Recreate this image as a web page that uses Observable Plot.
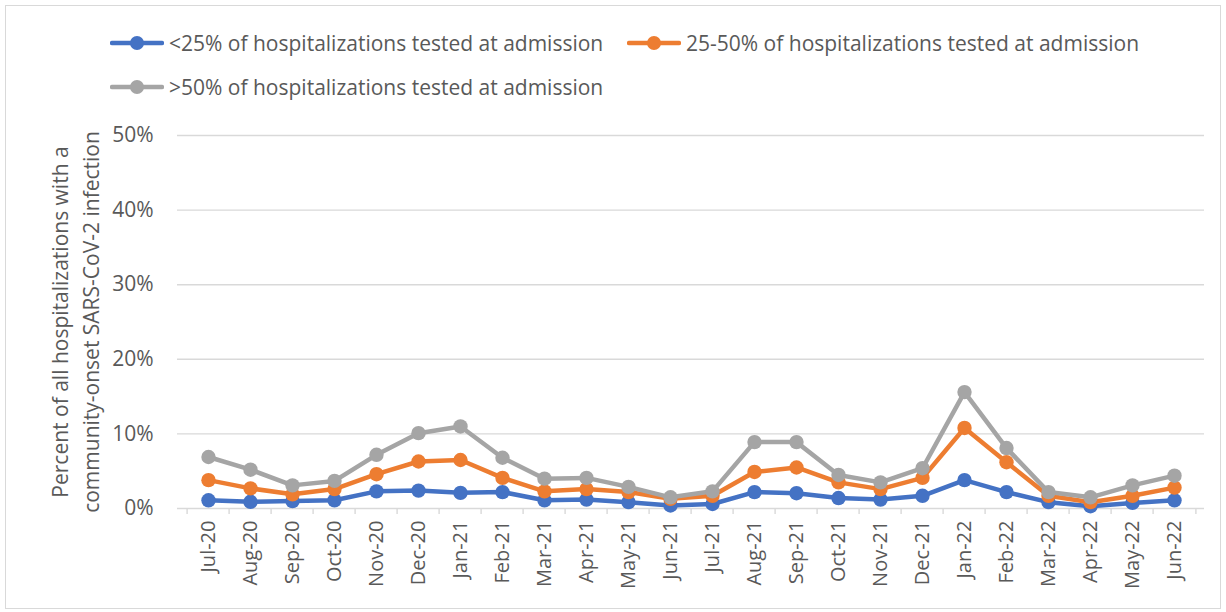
<!DOCTYPE html>
<html>
<head>
<meta charset="utf-8">
<script src="https://cdn.jsdelivr.net/npm/d3@7"></script>
<script src="https://cdn.jsdelivr.net/npm/@observablehq/plot@0.6"></script>
<style>
  html, body { margin: 0; padding: 0; background: #fff; }
  #wrap { position: relative; width: 1226px; height: 612px; font-family: "Open Sans", Lato, sans-serif; }
  #border { position: absolute; left: 5px; top: 5px; width: 1216px; height: 604px; border: 1px solid #d9d9d9; box-sizing: border-box; pointer-events: none; }
  .leg { position: absolute; display: flex; align-items: center; font-size: 21px; color: #595959; white-space: nowrap; }
  .leg svg { margin-right: 5px; }
</style>
</head>
<body>
<div id="wrap">
  <div id="border"></div>
  <div id="chart"></div>
</div>
<script>
const months = ["Jul-20","Aug-20","Sep-20","Oct-20","Nov-20","Dec-20","Jan-21","Feb-21","Mar-21","Apr-21","May-21","Jun-21",
                "Jul-21","Aug-21","Sep-21","Oct-21","Nov-21","Dec-21","Jan-22","Feb-22","Mar-22","Apr-22","May-22","Jun-22"];
const seriesNames = ["<25% of hospitalizations tested at admission",
                     "25-50% of hospitalizations tested at admission",
                     ">50% of hospitalizations tested at admission"];
const seriesColors = ["#4472C4", "#ED7D31", "#A5A5A5"];
const low  = [1.1, 0.9, 1.0, 1.1, 2.3, 2.4, 2.1, 2.2, 1.1, 1.2, 0.85, 0.4, 0.6, 2.2, 2.05, 1.4, 1.2, 1.7, 3.8, 2.2, 0.85, 0.3, 0.75, 1.1];
const mid  = [3.8, 2.7, 1.9, 2.6, 4.6, 6.3, 6.5, 4.1, 2.3, 2.6, 2.2, 1.3, 1.7, 4.9, 5.5, 3.5, 2.6, 4.1, 10.8, 6.2, 1.7, 0.85, 1.7, 2.8];
const high = [6.9, 5.2, 3.1, 3.7, 7.2, 10.1, 11.0, 6.8, 4.0, 4.1, 2.9, 1.5, 2.3, 8.9, 8.9, 4.5, 3.5, 5.4, 15.6, 8.1, 2.2, 1.5, 3.1, 4.4];
const yTicks = [0, 10, 20, 30, 40, 50];
const yLabel = "Percent of all hospitalizations with a\ncommunity-onset SARS-CoV-2 infection";

const seriesValues = [low, mid, high];
const rows = seriesValues.map(vals => months.map((m, i) => ({month: m, value: vals[i]})));

const W = 1226, H = 612, mL = 177, mR = 22, mT = 135, mB = 104;
const bw = (W - mL - mR) / months.length;
const font = "'Open Sans', Lato, sans-serif";

const seriesMarks = rows.flatMap((data, k) => [
  Plot.line(data, {x: "month", y: "value", stroke: seriesColors[k], strokeWidth: 4.5}),
  Plot.dot(data, {x: "month", y: "value", r: 7.2, fill: seriesColors[k], stroke: "none"})
]);

const chart = Plot.plot({
  width: W, height: H,
  marginLeft: mL, marginRight: mR, marginTop: mT, marginBottom: mB,
  style: {fontFamily: font, background: "transparent", overflow: "visible"},
  x: {type: "band", domain: months, padding: 0},
  y: {domain: [0, 50]},
  marks: [
    Plot.gridY(yTicks, {stroke: "#d9d9d9", strokeOpacity: 1, strokeWidth: 1.4}),
    Plot.axisY(yTicks, {tickSize: 0, tickPadding: 24, tickFormat: d => d + "%", fontSize: 21, fill: "#595959", label: null}),
    Plot.axisX({tickSize: 0, tickPadding: 12, tickRotate: -90, fontSize: 20, fill: "#595959", label: null}),
    Plot.axisX({tickSize: 6, dx: -bw / 2, tickFormat: () => "", stroke: "#d9d9d9", strokeOpacity: 1, strokeWidth: 1.4, label: null}),
    Plot.axisX([months[months.length - 1]], {tickSize: 6, dx: bw / 2, tickFormat: () => "", stroke: "#d9d9d9", strokeOpacity: 1, strokeWidth: 1.4, label: null}),
    Plot.text([yLabel], {frameAnchor: "left", textAnchor: "middle", rotate: -90, dx: -104, text: d => d, fontSize: 21, lineHeight: 1.5, fill: "#595959"}),
    ...seriesMarks
  ]
});
document.getElementById("chart").appendChild(chart);

// Legend (HTML overlay)
const legendPos = [[110, 43], [627, 43], [110, 87]];
const wrap = document.getElementById("wrap");
seriesNames.forEach((name, k) => {
  const div = document.createElement("div");
  div.className = "leg";
  div.style.left = legendPos[k][0] + "px";
  div.style.top = (legendPos[k][1] - 15) + "px";
  div.style.height = "30px";
  div.innerHTML = `<svg width="54" height="16"><line x1="2" x2="52" y1="8" y2="8" stroke="${seriesColors[k]}" stroke-width="4.5" stroke-linecap="round"/><circle cx="27" cy="8" r="7" fill="${seriesColors[k]}"/></svg>`;
  const span = document.createElement("span");
  span.textContent = name;
  div.appendChild(span);
  wrap.appendChild(div);
});
</script>
</body>
</html>
